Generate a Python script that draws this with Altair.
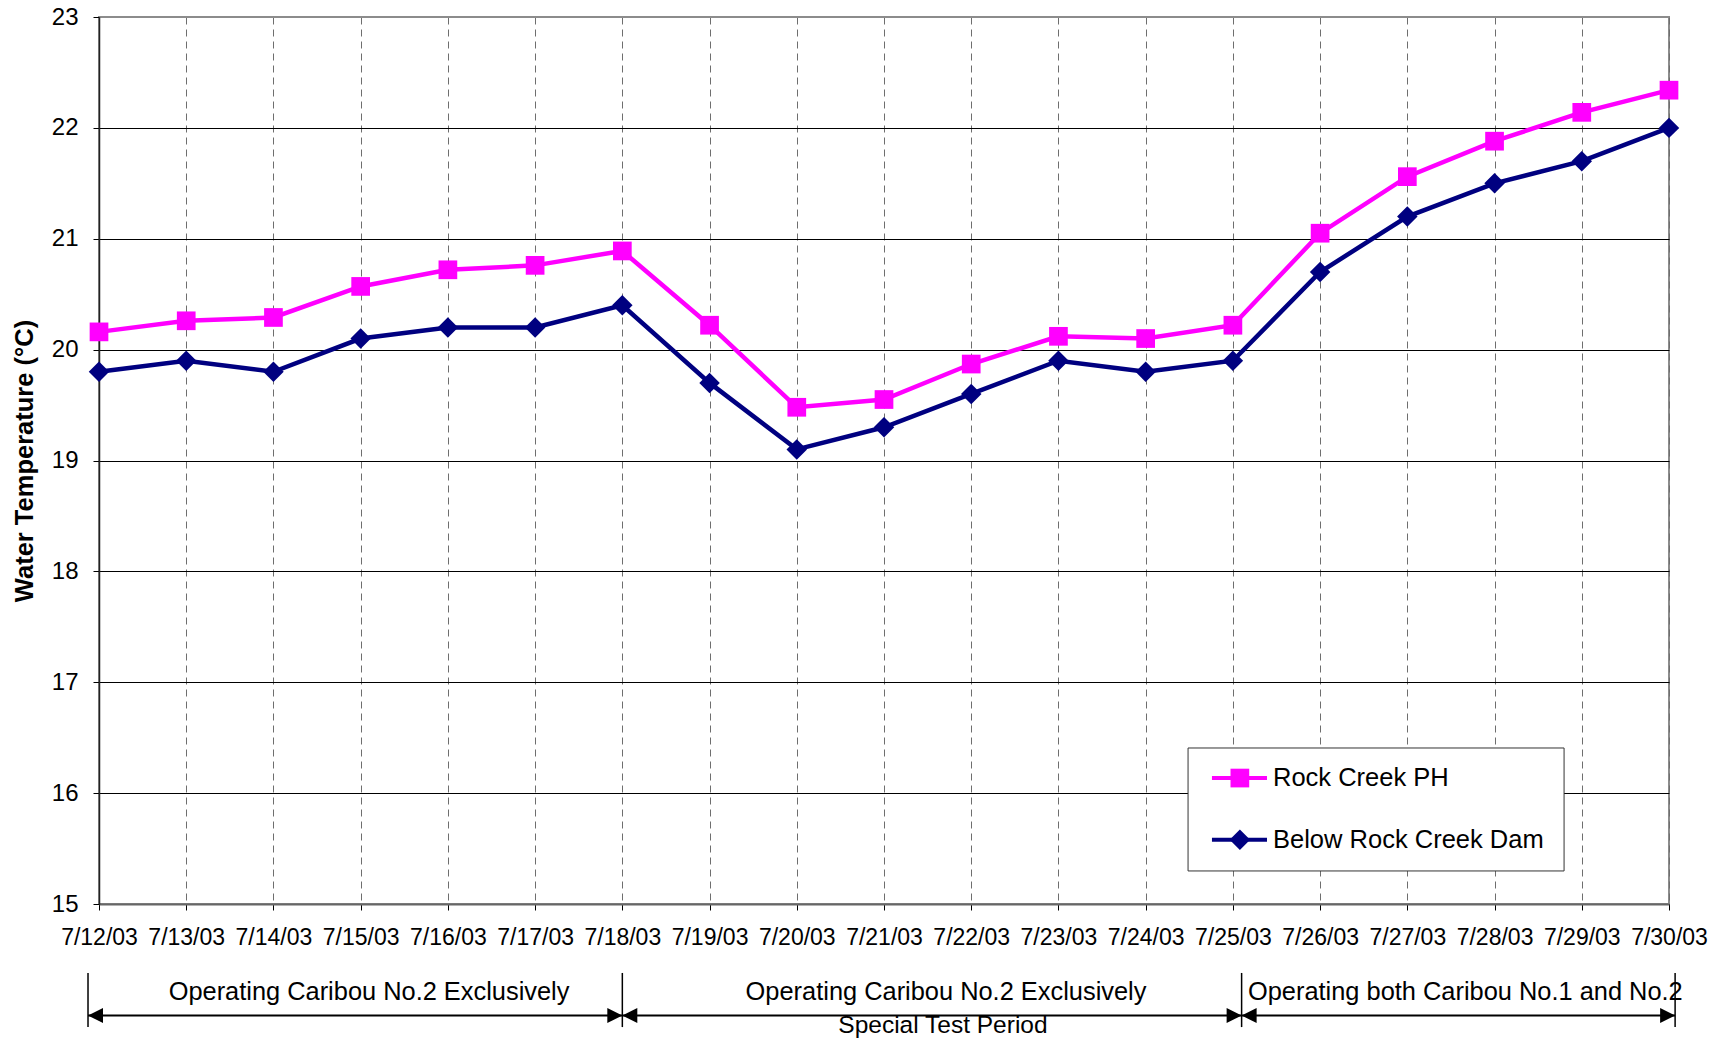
import json
import altair as alt
import pandas as pd

# ---------------- data ----------------
dates = ["7/12/03", "7/13/03", "7/14/03", "7/15/03", "7/16/03", "7/17/03", "7/18/03",
         "7/19/03", "7/20/03", "7/21/03", "7/22/03", "7/23/03", "7/24/03", "7/25/03",
         "7/26/03", "7/27/03", "7/28/03", "7/29/03", "7/30/03"]
rock_creek_ph = [20.16, 20.26, 20.29, 20.57, 20.72, 20.76, 20.89, 20.22, 19.48, 19.55,
                 19.87, 20.12, 20.10, 20.22, 21.05, 21.56, 21.88, 22.14, 22.34]
below_rock_creek_dam = [19.8, 19.9, 19.8, 20.1, 20.2, 20.2, 20.4, 19.7, 19.1, 19.3,
                        19.6, 19.9, 19.8, 19.9, 20.7, 21.2, 21.5, 21.7, 22.0]
series_names = ["Rock Creek PH", "Below Rock Creek Dam"]
series_colors = ["#FF00FF", "#000080"]
series_shapes = ["square", "diamond"]
series_sizes = [350, 420]
y_ticks = list(range(15, 24))
y_title = "Water Temperature (°C)"

period_labels = ["Operating Caribou No.2 Exclusively",
                 "Operating Caribou No.2 Exclusively",
                 "Operating both Caribou No.1 and No.2"]
special_label = "Special Test Period"

# ---------------- layout (annotation placement, in axis units) ----------------
period_edges = [-0.126, 6.0, 13.1, 18.07]
period_label_x = [3.096, 9.711, 13.173]
period_label_align = ["center", "center", "left"]
special_label_x = 9.676
bar_top, bar_bottom, arrow_y, label_y, special_y = 14.378, 13.89, 13.994, 14.206, 13.904

legend_box = (12.486, 16.797, 16.407, 15.298)
legend_line_x = (12.760, 13.391)
legend_marker_x = 13.08
legend_text_x = 13.46
legend_y = [16.136, 15.58]

FONT = "Liberation Sans"
TOP_VALUE = 23

# ---------------- frames ----------------
rows = []
for i, d in enumerate(dates):
    rows.append({"idx": i, "date": d, "series": series_names[0], "value": rock_creek_ph[i]})
    rows.append({"idx": i, "date": d, "series": series_names[1], "value": below_rock_creek_dam[i]})
df = pd.DataFrame(rows)

bars_df = pd.DataFrame({"x": period_edges, "y": [bar_top] * 4, "y2": [bar_bottom] * 4})
seg_df = pd.DataFrame({"x": period_edges[:-1], "x2": period_edges[1:], "y": [arrow_y] * 3})
head_r_df = pd.DataFrame({"x": period_edges[1:], "y": [arrow_y] * 3})
head_l_df = pd.DataFrame({"x": period_edges[:-1], "y": [arrow_y] * 3})
lab_df = pd.DataFrame({"x": period_label_x, "y": [label_y] * 3, "text": period_labels,
                       "align": period_label_align})
spec_df = pd.DataFrame({"x": [special_label_x], "y": [special_y], "text": [special_label]})

leg_box_df = pd.DataFrame({"x": [legend_box[0]], "x2": [legend_box[1]],
                           "y": [legend_box[2]], "y2": [legend_box[3]]})
leg_df = pd.DataFrame({"series": series_names, "y": legend_y,
                       "x1": [legend_line_x[0]] * 2, "x2": [legend_line_x[1]] * 2,
                       "xm": [legend_marker_x] * 2, "xt": [legend_text_x] * 2})

# ---------------- scales / axes ----------------
x_scale = alt.Scale(domain=[0, len(dates) - 1], nice=False, zero=False)
y_scale = alt.Scale(domain=[15, 23], nice=False, zero=False)
x_axis = alt.Axis(
    title=None, values=list(range(len(dates))),
    labelExpr=json.dumps(dates) + "[datum.value]",
    labelOverlap=False, labelFlush=False, labelFontSize=23, labelColor="#000",
    labelPadding=16, tickSize=6, tickColor="#000", tickWidth=1,
    domainColor="#666", domainWidth=2,
    grid=True, gridColor="#6e6e6e", gridDash=[7, 5], gridWidth=1,
)
y_axis = alt.Axis(
    title=y_title, titleFontSize=25.5, titleFontWeight="bold", titleColor="#000",
    titleX=-75, titleY=443.5, titleAngle=270, titleBaseline="middle", titleAlign="center",
    values=y_ticks, labelFontSize=24, labelColor="#000", labelPadding=15, labelFlush=False,
    tickSize=6, tickColor="#000", tickWidth=1, domainColor="#222", domainWidth=1.5,
    grid=True,
    gridColor=alt.condition(f"datum.value == {TOP_VALUE}", alt.value("#8c8c8c"), alt.value("#000")),
    gridWidth=1,
)


def X(f):
    return alt.X(f, type="quantitative", scale=x_scale, axis=x_axis)


def Y(f):
    return alt.Y(f, type="quantitative", scale=y_scale, axis=y_axis)


color_enc = alt.Color("series:N", scale=alt.Scale(domain=series_names, range=series_colors), legend=None)
shape_enc = alt.Shape("series:N", scale=alt.Scale(domain=series_names, range=series_shapes), legend=None)
size_enc = alt.Size("series:N", scale=alt.Scale(domain=series_names, range=series_sizes), legend=None)

base = alt.Chart(df)
lines = base.mark_line(strokeWidth=4.5).encode(x=X("idx"), y=Y("value"), color=color_enc,
                                                 detail="series:N")
points = base.mark_point(filled=True, opacity=1, strokeWidth=0).encode(
    x=X("idx"), y=Y("value"), color=color_enc, shape=shape_enc, size=size_enc)

bars = alt.Chart(bars_df).mark_rule(color="#000", strokeWidth=1.5).encode(
    x=X("x"), y=Y("y"), y2="y2")
segs = alt.Chart(seg_df).mark_rule(color="#000", strokeWidth=2).encode(
    x=X("x"), x2="x2", y=Y("y"))
head_r = alt.Chart(head_r_df).mark_point(shape="M0,0L-2,-1L-2,1Z", filled=True,
                                         color="#000", opacity=1, size=225, strokeWidth=0).encode(
    x=X("x"), y=Y("y"))
head_l = alt.Chart(head_l_df).mark_point(shape="M0,0L2,-1L2,1Z", filled=True,
                                         color="#000", opacity=1, size=225, strokeWidth=0).encode(
    x=X("x"), y=Y("y"))
labs_c = alt.Chart(lab_df).transform_filter("datum.align == 'center'").mark_text(
    font=FONT, fontSize=25.4, color="#000", align="center", baseline="middle").encode(
    x=X("x"), y=Y("y"), text="text:N")
labs_l = alt.Chart(lab_df).transform_filter("datum.align == 'left'").mark_text(
    font=FONT, fontSize=25.4, color="#000", align="left", baseline="middle").encode(
    x=X("x"), y=Y("y"), text="text:N")
spec = alt.Chart(spec_df).mark_text(font=FONT, fontSize=24.5, color="#000", align="center",
                                    baseline="middle").encode(x=X("x"), y=Y("y"), text="text:N")

leg_box = alt.Chart(leg_box_df).mark_rect(fill="#fff", stroke="#333", strokeWidth=1).encode(
    x=X("x"), x2="x2", y=Y("y"), y2="y2")
leg_lines = alt.Chart(leg_df).mark_rule(strokeWidth=4).encode(
    x=X("x1"), x2="x2", y=Y("y"), color=color_enc)
leg_pts = alt.Chart(leg_df).mark_point(filled=True, opacity=1, strokeWidth=0).encode(
    x=X("xm"), y=Y("y"), color=color_enc, shape=shape_enc, size=size_enc)
leg_txt = alt.Chart(leg_df).mark_text(font=FONT, fontSize=25.5, color="#000", align="left",
                                      baseline="middle").encode(
    x=X("xt"), y=Y("y"), text="series:N")

chart = alt.layer(
    lines, points, bars, segs, head_r, head_l, labs_c, labs_l, spec,
    leg_box, leg_lines, leg_pts, leg_txt,
).properties(
    width=1570, height=887,
    padding={"left": 91, "top": 9, "right": 46, "bottom": 135},
    autosize=alt.AutoSizeParams(type="none"),
).configure(font=FONT).configure_view(stroke="#8c8c8c", strokeWidth=2)

chart.save("out.html", embed_options={"renderer": "svg", "actions": False})
